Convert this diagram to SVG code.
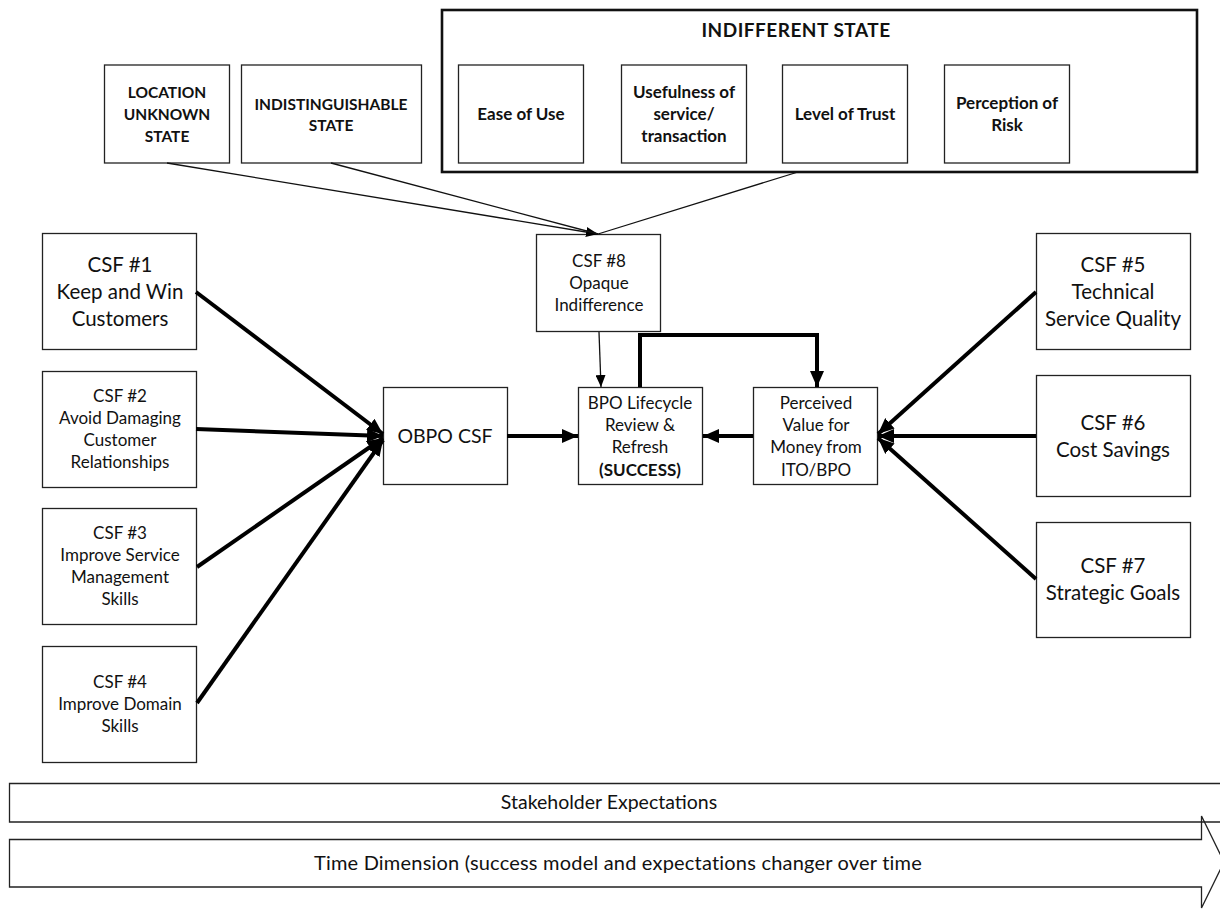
<svg xmlns="http://www.w3.org/2000/svg" width="1220" height="909" viewBox="0 0 1220 909">
  <style>
    .box { fill: #fff; stroke: #222; stroke-width: 1.3; }
    .band { fill: none; stroke: #222; stroke-width: 1.3; }
    .frame { fill: #fff; stroke: #111; stroke-width: 2.6; }
    .t { font-family: Lato, "Liberation Sans", sans-serif; fill: #111; text-anchor: middle; }
    .big { font-size: 20.5px; }
    .sm { font-size: 17px; }
    .b { font-weight: bold; font-size: 17px; }
    .bc { font-weight: bold; font-size: 15.5px; }
    .thin { fill: none; stroke: #111; stroke-width: 1.3; }
    .thick { fill: none; stroke: #000; stroke-width: 4; }
  </style>
  <defs>
    <marker id="ah" markerUnits="userSpaceOnUse" viewBox="0 0 16 14" refX="16" refY="7" markerWidth="16" markerHeight="14" orient="auto">
      <path d="M0,0 L16,7 L0,14 Z" fill="#000"/>
    </marker>
    <marker id="ahs" markerUnits="userSpaceOnUse" viewBox="0 0 12 10" refX="12" refY="5" markerWidth="12" markerHeight="10" orient="auto">
      <path d="M0,0 L12,5 L0,10 Z" fill="#000"/>
    </marker>
  </defs>

  <!-- bottom band arrows -->
  <g id="stakeholder">
    <path class="band" d="M9.5,783.5 H1230 V822 H9.5 Z"/>
    <text class="t" x="609" y="809" font-size="19.5">Stakeholder Expectations</text>
  </g>
  <g id="time">
    <path class="band" d="M9.5,839.5 H1201.5 V816 L1224,862 L1201.5,908 V887 H9.5 Z"/>
    <text class="t" x="618" y="870" font-size="20" letter-spacing="0.2">Time Dimension (success model and expectations changer over time</text>
  </g>

  <!-- upper state boxes -->
  <g id="location">
    <rect class="box" x="104.5" y="65" width="125" height="98"/>
    <text class="t bc" x="167" y="98">LOCATION</text>
    <text class="t bc" x="167" y="120">UNKNOWN</text>
    <text class="t bc" x="167" y="142">STATE</text>
  </g>
  <g id="indistinguishable">
    <rect class="box" x="241.5" y="65" width="180" height="98"/>
    <text class="t bc" x="331" y="110">INDISTINGUISHABLE</text>
    <text class="t bc" x="331" y="131">STATE</text>
  </g>
  <g id="indifferent">
    <rect class="frame" x="442" y="10" width="755" height="162"/>
    <text class="t" x="796" y="37" font-weight="bold" font-size="19" letter-spacing="0.5">INDIFFERENT STATE</text>
    <rect class="box" x="458.5" y="65" width="125" height="98"/>
    <text class="t b" x="521" y="120">Ease of Use</text>
    <rect class="box" x="621.5" y="65" width="125" height="98"/>
    <text class="t b" x="684" y="98">Usefulness of</text>
    <text class="t b" x="684" y="120">service/</text>
    <text class="t b" x="684" y="142">transaction</text>
    <rect class="box" x="782.5" y="65" width="125" height="98"/>
    <text class="t b" x="845" y="120">Level of Trust</text>
    <rect class="box" x="944.5" y="65" width="125" height="98"/>
    <text class="t b" x="1007" y="109">Perception of</text>
    <text class="t b" x="1007" y="131">Risk</text>
  </g>

  <!-- left CSF boxes -->
  <g id="csf1">
    <rect class="box" x="42.5" y="233.5" width="154" height="116"/>
    <text class="t big" x="120" y="272">CSF #1</text>
    <text class="t big" x="120" y="299">Keep and Win</text>
    <text class="t big" x="120" y="326">Customers</text>
  </g>
  <g id="csf2">
    <rect class="box" x="42.5" y="371.5" width="154" height="116"/>
    <text class="t sm" x="120" y="402">CSF #2</text>
    <text class="t sm" x="120" y="424">Avoid Damaging</text>
    <text class="t sm" x="120" y="446">Customer</text>
    <text class="t sm" x="120" y="468">Relationships</text>
  </g>
  <g id="csf3">
    <rect class="box" x="42.5" y="508.5" width="154" height="116"/>
    <text class="t sm" x="120" y="539">CSF #3</text>
    <text class="t sm" x="120" y="561">Improve Service</text>
    <text class="t sm" x="120" y="583">Management</text>
    <text class="t sm" x="120" y="605">Skills</text>
  </g>
  <g id="csf4">
    <rect class="box" x="42.5" y="646.5" width="154" height="116"/>
    <text class="t sm" x="120" y="688">CSF #4</text>
    <text class="t sm" x="120" y="710">Improve Domain</text>
    <text class="t sm" x="120" y="732">Skills</text>
  </g>

  <!-- centre chain -->
  <g id="obpo">
    <rect class="box" x="383.5" y="387.5" width="124" height="97"/>
    <text class="t" x="445" y="443" font-size="19.5">OBPO CSF</text>
  </g>
  <g id="csf8">
    <rect class="box" x="536.5" y="234.5" width="124" height="97"/>
    <text class="t sm" x="599" y="267">CSF #8</text>
    <text class="t sm" x="599" y="289">Opaque</text>
    <text class="t sm" x="599" y="311">Indifference</text>
  </g>
  <g id="bpo">
    <rect class="box" x="578.5" y="387.5" width="124" height="97"/>
    <text class="t sm" x="640" y="409">BPO Lifecycle</text>
    <text class="t sm" x="640" y="431">Review &amp;</text>
    <text class="t sm" x="640" y="453">Refresh</text>
    <text class="t sm" x="640" y="476" font-weight="bold">(SUCCESS)</text>
  </g>
  <g id="perceived">
    <rect class="box" x="753.5" y="387.5" width="124" height="97"/>
    <text class="t sm" x="816" y="409">Perceived</text>
    <text class="t sm" x="816" y="431">Value for</text>
    <text class="t sm" x="816" y="453">Money from</text>
    <text class="t sm" x="816" y="476">ITO/BPO</text>
  </g>

  <!-- right CSF boxes -->
  <g id="csf5">
    <rect class="box" x="1036.5" y="233.5" width="154" height="116"/>
    <text class="t big" x="1113" y="272">CSF #5</text>
    <text class="t big" x="1113" y="299">Technical</text>
    <text class="t big" x="1113" y="326">Service Quality</text>
  </g>
  <g id="csf6">
    <rect class="box" x="1036.5" y="375.5" width="154" height="121"/>
    <text class="t big" x="1113" y="430">CSF #6</text>
    <text class="t big" x="1113" y="457">Cost Savings</text>
  </g>
  <g id="csf7">
    <rect class="box" x="1036.5" y="522.5" width="154" height="115"/>
    <text class="t big" x="1113" y="573">CSF #7</text>
    <text class="t big" x="1113" y="600">Strategic Goals</text>
  </g>

  <!-- connectors -->
  <g id="connectors">
    <line class="thin" x1="167" y1="163" x2="598" y2="234" marker-end="url(#ahs)"/>
    <line class="thin" x1="331" y1="163" x2="598" y2="234"/>
    <line class="thin" x1="798" y1="172" x2="598" y2="234"/>
    <line class="thin" x1="599" y1="332" x2="601" y2="387" marker-end="url(#ahs)"/>

    <line class="thick" x1="196" y1="292" x2="383" y2="434" marker-end="url(#ah)"/>
    <line class="thick" x1="196" y1="429" x2="383" y2="436" marker-end="url(#ah)"/>
    <line class="thick" x1="197" y1="567" x2="383" y2="438" marker-end="url(#ah)"/>
    <line class="thick" x1="197" y1="703" x2="383" y2="440" marker-end="url(#ah)"/>

    <line class="thick" x1="507" y1="436" x2="578" y2="436" marker-end="url(#ah)"/>
    <line class="thick" x1="753" y1="436" x2="703" y2="436" marker-end="url(#ah)"/>
    <path class="thick" d="M640,387 V335 H817 V387" marker-end="url(#ah)"/>

    <line class="thick" x1="1036" y1="292" x2="878" y2="434" marker-end="url(#ah)"/>
    <line class="thick" x1="1036" y1="436" x2="878" y2="436" marker-end="url(#ah)"/>
    <line class="thick" x1="1036" y1="579" x2="878" y2="438" marker-end="url(#ah)"/>
  </g>
</svg>
